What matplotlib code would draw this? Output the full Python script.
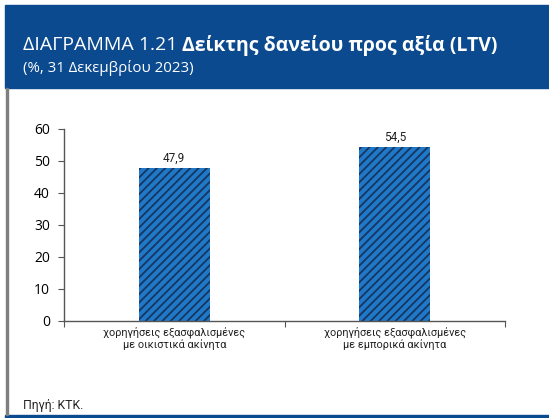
import matplotlib
matplotlib.use("Agg")
from matplotlib import pyplot as plt
from matplotlib.patches import Rectangle

categories = ["χορηγήσεις εξασφαλισμένες\nμε οικιστικά ακίνητα",
              "χορηγήσεις εξασφαλισμένες\nμε εμπορικά ακίνητα"]
ltv = [47.9, 54.5]
value_labels = ["47,9", "54,5"]
y_ticks = [0, 10, 20, 30, 40, 50, 60]

HEADER_BLUE = "#0b4a8e"
BAR_BLUE = "#1f78c8"
HATCH_BLUE = "#17365f"
NARROW = ["Roboto", "DejaVu Sans"]

plt.rcParams['font.family'] = ["Open Sans", "DejaVu Sans"]
plt.rcParams['hatch.color'] = HATCH_BLUE
plt.rcParams['hatch.linewidth'] = 1.3

W, H = 549, 418
fig = plt.figure(figsize=(W / 100, H / 100), dpi=100)


def fx(px):
    return px / W


def fy(py):
    return 1 - py / H


# header band
fig.patches.append(Rectangle((fx(5), fy(88)), 1 - fx(5), fy(5) - fy(88),
                             transform=fig.transFigure, color=HEADER_BLUE, zorder=0))
# bottom rule and left border
fig.patches.append(Rectangle((fx(5), 0), 1 - fx(5), 3 / H,
                             transform=fig.transFigure, color=HEADER_BLUE, zorder=0))
fig.patches.append(Rectangle((fx(6), 3 / H), 1.5 / W, fy(88) - 3 / H,
                             transform=fig.transFigure, color="#7f7f7f", zorder=0))

t = fig.text(fx(23), fy(45), "ΔΙΑΓΡΑΜΜΑ 1.21 ", color="white", fontsize=14,
             va="center", ha="left")
fig.canvas.draw()
bb = t.get_window_extent()
fig.text(bb.x1 / W, fy(45), "Δείκτης δανείου προς αξία (LTV)", color="white",
         fontsize=14, fontweight="bold", va="center", ha="left")
fig.text(fx(23), fy(68), "(%, 31 Δεκεμβρίου 2023)", color="white", fontsize=10.8,
         va="center", ha="left")
fig.text(fx(23), fy(405), "Πηγή: ΚΤΚ.", color="#222222", fontsize=8.8,
         family=NARROW, va="center", ha="left")

ax = fig.add_axes([fx(64), fy(321), fx(505) - fx(64), fy(129) - fy(321)])
x = range(len(categories))
bars = ax.bar(x, ltv, width=0.32, color=BAR_BLUE, hatch="////",
              edgecolor=HATCH_BLUE, linewidth=0)
for b, lab in zip(bars, value_labels):
    ax.text(b.get_x() + b.get_width() / 2, b.get_height() + 0.8, lab,
            ha="center", va="bottom", fontsize=8.5, family=NARROW, color="#222222")

ax.set_xlim(-0.5, 1.5)
ax.set_ylim(0, 60)
ax.set_yticks(y_ticks)
ax.set_xticks([-0.5, 0.5, 1.5])
ax.set_xticklabels([])
ax.set_xticks(list(x), minor=True)
ax.set_xticklabels(categories, minor=True, family=NARROW, fontsize=7.8,
                   linespacing=1.1, color="#222222")
ax.tick_params(axis="x", which="minor", length=0, pad=4)
ax.tick_params(axis="x", which="major", length=4, color="#555555")
ax.tick_params(axis="y", length=4, color="#555555", labelsize=10, pad=6)
for s in ["top", "right"]:
    ax.spines[s].set_visible(False)
for s in ["left", "bottom"]:
    ax.spines[s].set_color("#555555")
    ax.spines[s].set_linewidth(1.0)

fig.savefig("out.png", dpi=100)
